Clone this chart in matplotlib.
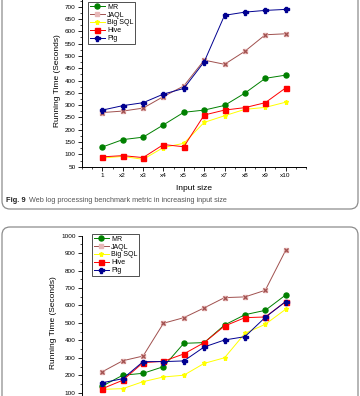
import matplotlib
matplotlib.use("Agg")
import matplotlib.pyplot as plt
from matplotlib.patches import FancyBboxPatch
from matplotlib.ticker import MultipleLocator

plt.rcParams['font.family'] = ['Liberation Sans', 'DejaVu Sans']

# Datos
x_labels = ["1", "x2", "x3", "x4", "x5", "x6", "x7", "x8", "x9", "x10"]
series = ["MR", "JAQL", "Big SQL", "Hive", "Pig"]

# Fig. 9 (arriba)
mr_top = [130, 160, 170, 220, 271, 280, 299, 349, 409, 422]
jaql_top = [270, 276, 288, 335, 378, 483, 466, 519, 586, 590]
bigsql_top = [85, 92, 80, 128, 145, 230, 257, 283, 291, 312]
hive_top = [90, 95, 87, 140, 131, 260, 280, 290, 310, 370]
pig_top = [280, 298, 310, 345, 368, 476, 665, 678, 685, 689]
yticks_top = list(range(50, 701, 50))

# figura de abajo
mr_bot = [138, 200, 211, 249, 383, 387, 488, 547, 572, 660]
jaql_bot = [220, 283, 310, 498, 530, 586, 645, 649, 687, 916]
bigsql_bot = [119, 123, 163, 190, 200, 268, 300, 440, 492, 578]
hive_bot = [123, 171, 272, 280, 322, 387, 482, 530, 534, 622]
pig_bot = [157, 180, 278, 278, 282, 362, 402, 421, 532, 622]
yticks_bot = list(range(100, 1001, 100))

colors = ["#008000", "#a0504e", "#ffff00", "#ff0000", "#000090"]
markers = ["o", "x", "*", "s", "P"]

fig = plt.figure(figsize=(3.6, 3.96), dpi=100)

# cajas redondeadas
for y0, h in [(1.87, 2.4), (-0.3, 1.99)]:
    box = FancyBboxPatch((0.02, y0), 3.56, h, boxstyle="round,pad=0,rounding_size=0.08",
                         transform=fig.dpi_scale_trans, facecolor="none",
                         edgecolor="#8c8c8c", linewidth=0.9)
    fig.patches.append(box)


def dibujar(ax, datos, ylim, yticks, minor, leg_pos):
    xs = list(range(1, len(x_labels) + 1))
    for vals, name, c, m in zip(datos, series, colors, markers):
        if m == "x":
            ax.plot(xs, vals, color=c, lw=0.7, marker="s", ms=3.5, mfc="#e8b8b8",
                    mec="#e8b8b8", label=name)
            ax.plot(xs, vals, color=c, lw=0, marker="x", ms=3.2, mew=0.9)
        else:
            ax.plot(xs, vals, color=c, lw=0.7, marker=m, ms=3.6, mec=c, label=name)
    ax.set_xlim(0, 11)
    ax.set_ylim(*ylim)
    ax.set_xticks(xs)
    ax.set_xticklabels(x_labels)
    ax.xaxis.set_minor_locator(MultipleLocator(0.5))
    ax.set_yticks(yticks)
    ax.yaxis.set_minor_locator(MultipleLocator(minor))
    ax.spines["top"].set_visible(False)
    ax.spines["right"].set_visible(False)
    ax.spines["left"].set_linewidth(0.7)
    ax.spines["bottom"].set_linewidth(0.7)
    ax.tick_params(which="major", labelsize=4.6, length=3, width=0.6, pad=1.5)
    ax.tick_params(which="minor", length=1.6, width=0.5)
    ax.set_ylabel("Running Time (Seconds)", fontsize=6, labelpad=3)
    leg = ax.legend(loc="upper left", bbox_to_anchor=leg_pos, bbox_transform=fig.transFigure,
                    fontsize=5.0, frameon=True, fancybox=False, handlelength=2.2,
                    borderpad=0.25, labelspacing=0.12, handletextpad=0.3,
                    borderaxespad=0)
    leg.get_frame().set_edgecolor("black")
    leg.get_frame().set_linewidth(0.6)


# GRAFICO 1
ax1 = fig.add_axes([82 / 360, (396 - 166.7) / 396, 224 / 360, 172.3 / 396])
dibujar(ax1, [mr_top, jaql_top, bigsql_top, hive_top, pig_top], (50, 750), yticks_top, 25,
        (88 / 360, 1 - 2 / 396))
ax1.set_xlabel("Input size", fontsize=6, labelpad=5)

fig.text(6 / 360, (396 - 201) / 396, "Fig. 9", fontsize=5.4, fontweight="bold",
         va="center", ha="left", color="#222222")
fig.text(29 / 360, (396 - 201) / 396, "Web log processing benchmark metric in increasing input size",
         fontsize=5.2, va="center", ha="left", color="#555555")

# GRAFICO 2 (cortado abajo)
ax2 = fig.add_axes([82 / 360, (396 - 410.1) / 396, 224 / 360, 174.4 / 396])
dibujar(ax2, [mr_bot, jaql_bot, bigsql_bot, hive_bot, pig_bot], (0, 1000), yticks_bot, 50,
        (92 / 360, 1 - 234 / 396))
ax2.tick_params(axis="x", labelbottom=False)

fig.savefig("out.png", dpi=100)
